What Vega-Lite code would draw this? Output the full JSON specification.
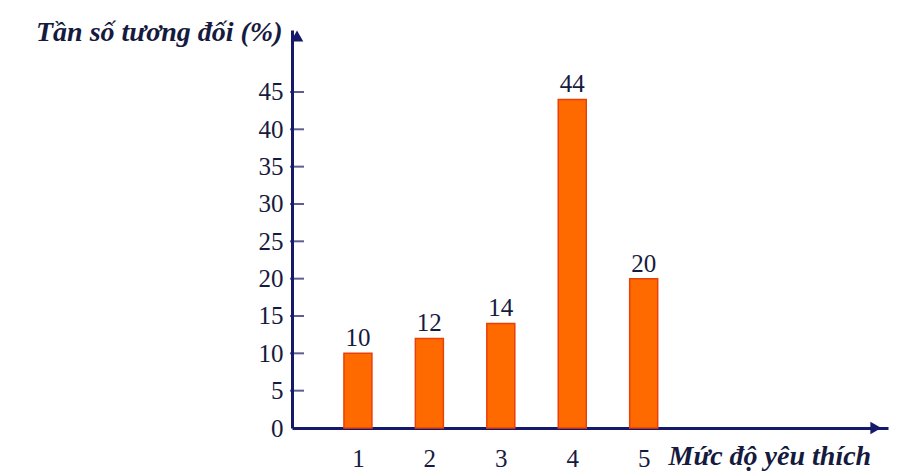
{
  "$schema": "https://vega.github.io/schema/vega-lite/v6.json",
  "autosize": "none",
  "width": 596,
  "height": 398,
  "padding": {"left": 292, "top": 30, "right": 11, "bottom": 44},
  "background": "white",
  "config": {"view": {"stroke": null}},
  "datasets": {
    "bars": [
      {"muc": 1, "tanso": 10},
      {"muc": 2, "tanso": 12},
      {"muc": 3, "tanso": 14},
      {"muc": 4, "tanso": 44},
      {"muc": 5, "tanso": 20}
    ],
    "ticks": [
      {"v": 5}, {"v": 10}, {"v": 15}, {"v": 20}, {"v": 25},
      {"v": 30}, {"v": 35}, {"v": 40}, {"v": 45}
    ]
  },
  "layer": [
    {
      "data": {"name": "bars"},
      "mark": {"type": "bar", "width": 28, "fill": "#FF6A00", "stroke": "#E8400A", "strokeWidth": 1.5},
      "encoding": {
        "x": {
          "field": "muc", "type": "quantitative",
          "scale": {"domain": [0.147, 8.35], "nice": false, "zero": false},
          "axis": {
            "values": [1, 2, 3, 4, 5], "format": "d",
            "grid": false, "ticks": false,
            "domainColor": "#15196A", "domainWidth": 3,
            "labelFont": "Liberation Serif", "labelFontSize": 25, "labelColor": "#161A3E",
            "labelPadding": 18,
            "title": "Mức độ yêu thích",
            "titleFont": "Liberation Serif", "titleFontSize": 28, "titleFontStyle": "italic", "titleFontWeight": "bold",
            "titleColor": "#161A3E",
            "titleAnchor": "start", "titleAlign": "left", "titleX": 376, "titleY": 36, "titleBaseline": "alphabetic"
          }
        },
        "y": {
          "field": "tanso", "type": "quantitative",
          "scale": {"domain": [0, 53.3], "nice": false},
          "axis": {
            "values": [0, 5, 10, 15, 20, 25, 30, 35, 40, 45],
            "grid": false, "ticks": false,
            "domainColor": "#15196A", "domainWidth": 3,
            "labelFont": "Liberation Serif", "labelFontSize": 25, "labelColor": "#161A3E",
            "labelPadding": 9,
            "title": "Tần số tương đối (%)",
            "titleFont": "Liberation Serif", "titleFontSize": 28, "titleFontStyle": "italic", "titleFontWeight": "bold",
            "titleColor": "#161A3E",
            "titleAngle": 0, "titleAlign": "right", "titleBaseline": "alphabetic",
            "titleX": -10, "titleY": 10
          }
        }
      }
    },
    {
      "data": {"name": "bars"},
      "mark": {"type": "text", "dy": -15, "font": "Liberation Serif", "fontSize": 25, "color": "#161A3E"},
      "encoding": {
        "x": {"field": "muc", "type": "quantitative"},
        "y": {"field": "tanso", "type": "quantitative"},
        "text": {"field": "tanso", "type": "quantitative"}
      }
    },
    {
      "data": {"name": "ticks"},
      "mark": {"type": "tick", "orient": "horizontal", "size": 14, "thickness": 2, "color": "#15196A"},
      "encoding": {
        "x": {"datum": 0.147, "type": "quantitative"},
        "y": {"field": "v", "type": "quantitative"}
      }
    },
    {
      "data": {"values": [{}]},
      "mark": {"type": "point", "shape": "triangle-up", "size": 160, "filled": true, "color": "#15196A", "opacity": 1},
      "encoding": {
        "x": {"datum": 0.147, "type": "quantitative"},
        "y": {"datum": 52.5, "type": "quantitative"}
      }
    },
    {
      "data": {"values": [{}]},
      "mark": {"type": "point", "shape": "triangle-right", "size": 160, "filled": true, "color": "#15196A", "opacity": 1},
      "encoding": {
        "x": {"datum": 8.25, "type": "quantitative"},
        "y": {"datum": 0, "type": "quantitative"}
      }
    }
  ]
}
